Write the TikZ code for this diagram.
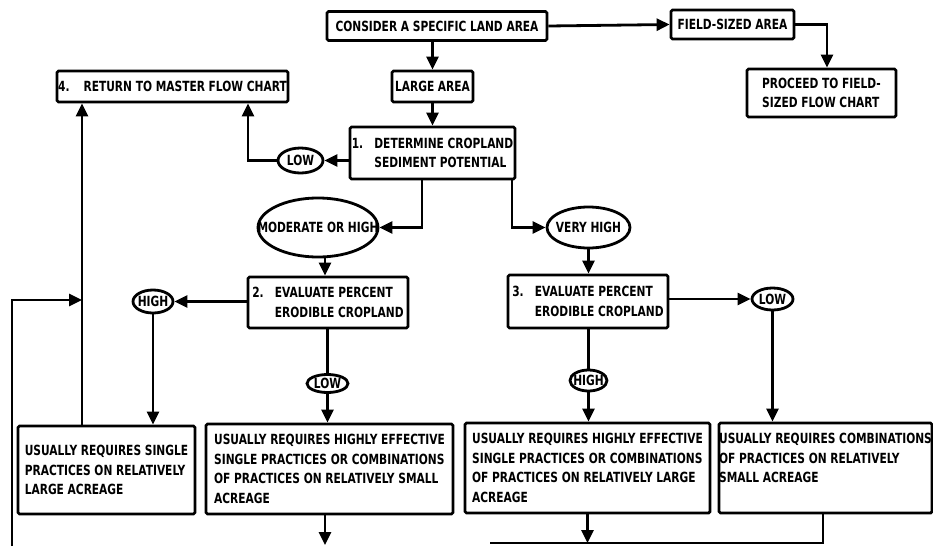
\documentclass[tikz,border=0pt]{standalone}
\usepackage{fontspec}
\newfontfamily\flowfont{DejaVu Sans}[FakeStretch=0.76]
\usetikzlibrary{arrows.meta,shapes.geometric}
\tikzset{
  txt/.style={font=\flowfont\bfseries\fontsize{14}{19.5}\selectfont},
  box/.style={txt, draw, line width=2.8pt, rounded corners=1.5pt, inner sep=0pt, align=center},
  lbox/.style={box, align=left},
  oval/.style={txt, draw, ellipse, line width=2.8pt, inner sep=0pt},
  line/.style={line width=2.8pt},
  arr/.style={line, -{Triangle[length=13pt,width=12pt]}}
}
\newcommand{\ovtext}[1]{\makebox[0pt]{#1}}
\begin{document}
\begin{tikzpicture}[x=1pt,y=-1pt]
\useasboundingbox (0,0) rectangle (933,546);

% top row
\node[box, minimum width=220pt, minimum height=29pt] (consider) at (437,26) {CONSIDER A SPECIFIC LAND AREA};
\node[box, minimum width=123pt, minimum height=29pt] (field) at (732.5,24.5) {FIELD-SIZED AREA};
\node[lbox, minimum width=149pt, minimum height=48pt] (proceed) at (821.5,93) {PROCEED TO FIELD-\\SIZED FLOW CHART};
\node[box, minimum width=81pt, minimum height=31pt] (large) at (432.5,86.5) {LARGE AREA};
\node[box, minimum width=231pt, minimum height=31pt] (ret) at (172.5,86.5) {4.\hspace{1em}RETURN TO MASTER FLOW CHART};
\node[lbox, minimum width=165pt, minimum height=52pt] (det) at (432.5,153) {1.\hspace{0.8em}DETERMINE CROPLAND\\\hphantom{1.\hspace{0.8em}}SEDIMENT POTENTIAL};

% decision ovals
\node[oval, minimum width=45pt, minimum height=25pt] (lowA) at (300.5,160.5) {\ovtext{LOW}};
\node[oval, minimum width=120pt, minimum height=59pt] (mod) at (318,227.5) {\ovtext{MODERATE OR HIGH}};
\node[oval, minimum width=83pt, minimum height=41pt] (vhigh) at (588.5,227.5) {\ovtext{VERY HIGH}};

% evaluation boxes
\node[lbox, minimum width=160pt, minimum height=51pt] (eval2) at (328,302.5) {2.\hspace{0.8em}EVALUATE PERCENT\\\hphantom{2.\hspace{0.8em}}ERODIBLE CROPLAND};
\node[lbox, minimum width=160pt, minimum height=53pt] (eval3) at (588,301.5) {3.\hspace{0.8em}EVALUATE PERCENT\\\hphantom{3.\hspace{0.8em}}ERODIBLE CROPLAND};

\node[oval, minimum width=40pt, minimum height=23pt] (highA) at (153,301.5) {\ovtext{HIGH}};
\node[oval, minimum width=41pt, minimum height=22pt] (lowB) at (772.5,299) {\ovtext{LOW}};
\node[oval, minimum width=41pt, minimum height=18pt] (lowC) at (327.5,383.5) {\ovtext{LOW}};
\node[oval, minimum width=37pt, minimum height=21pt] (highB) at (588.5,380.5) {\ovtext{HIGH}};

% result boxes
\node[lbox, minimum width=177pt, minimum height=88pt] (single) at (106.5,470) {USUALLY REQUIRES SINGLE\\PRACTICES ON RELATIVELY\\LARGE ACREAGE};
\node[lbox, minimum width=247pt, minimum height=90pt] (hesmall) at (329.5,469) {USUALLY REQUIRES HIGHLY EFFECTIVE\\SINGLE PRACTICES OR COMBINATIONS\\OF PRACTICES ON RELATIVELY SMALL\\ACREAGE};
\node[lbox, minimum width=245pt, minimum height=90pt] (helarge) at (587.5,468) {USUALLY REQUIRES HIGHLY EFFECTIVE\\SINGLE PRACTICES OR COMBINATIONS\\OF PRACTICES ON RELATIVELY LARGE\\ACREAGE};
\node[lbox, minimum width=213pt, minimum height=90pt] (combo) at (825.5,468) {USUALLY REQUIRES COMBINATIONS\\OF PRACTICES ON RELATIVELY\\SMALL ACREAGE\\\mbox{}};

% free ends
\coordinate (fbstart) at (12,546);
\coordinate (fbin) at (82,300);
\coordinate (outA) at (325,545);
\coordinate (botL) at (490,543);

% connectors
\draw[arr] (large.north |- consider.south) -- (large.north);
\draw[arr] (consider.east) -- (field.west);
\draw[arr] (field.east) -| ([xshift=5.5pt]proceed.north);
\draw[arr] (large.south) -- (large.south |- det.north);
\draw[arr] (lowA.east -| det.west) -- (lowA.east);
\draw[arr] (lowA.west) -| ([xshift=75.5pt]ret.south);
\draw[arr] ([xshift=-10.5pt]det.south) |- (mod.east);
\draw[arr] ([xshift=79.5pt]det.south) |- (vhigh.west);
\draw[arr] ([xshift=-3pt]eval2.north |- mod.south) -- ([xshift=-3pt]eval2.north);
\draw[arr] (vhigh.south) -- (vhigh.south |- eval3.north);
\draw[arr] (eval2.west |- highA.east) -- (highA.east);
\draw[arr] (highA.south) -- (highA.south |- single.north);
\draw[arr] ([xshift=-24.5pt]single.north) -- ([xshift=-24.5pt]single.north |- ret.south);
\draw[arr] (fbstart) |- (fbin);
\draw[arr] (eval3.east |- lowB.west) -- (lowB.west);
\draw[arr] (lowB.south) -- (lowB.south |- combo.north);
\draw[line] (lowC.north |- eval2.south) -- (lowC.north);
\draw[arr] (lowC.south) -- (lowC.south |- hesmall.north);
\draw[line] (highB.north |- eval3.south) -- (highB.north);
\draw[arr] (highB.south) -- (highB.south |- helarge.north);
\draw[arr] (outA |- hesmall.south) -- (outA);
\draw[line] ([xshift=-2.5pt]combo.south) |- (botL);
\draw[arr] (helarge.south) -- (helarge.south |- botL);
\end{tikzpicture}
\end{document}
